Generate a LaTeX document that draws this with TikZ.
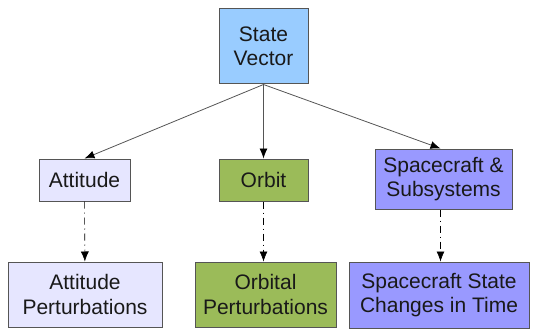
\documentclass[tikz,border=0pt]{standalone}
\usepackage{fontspec}
\setmainfont{Liberation Sans}
\usetikzlibrary{arrows.meta,positioning}

\definecolor{svblue}{HTML}{99CCFF}
\definecolor{attlav}{HTML}{E6E6FF}
\definecolor{orbgreen}{HTML}{9BBB59}
\definecolor{scviolet}{HTML}{9999FF}
\definecolor{edgegray}{HTML}{555555}

\begin{document}
\begin{tikzpicture}[
        x=1pt, y=-1pt,
        every node/.style={draw=edgegray, line width=1pt, align=center, inner sep=0pt,
            font=\fontsize{21}{24.5}\selectfont, text=black!90},
        link/.style={draw=edgegray, line width=0.8pt, -{Latex[length=10pt,width=8pt,black]}},
        detail/.style={draw=black, line width=0.6pt, dash pattern=on 7pt off 4pt on 1pt off 4pt,
            -{Latex[length=10pt,width=8pt,black]}}
    ]
    \useasboundingbox (0,0) rectangle (533,329);

    % Nodes
    \node (state) at (263.5,46.5) [fill=svblue, minimum width=89pt, minimum height=75pt] {State\\Vector};

    \node (att) at (84.5,180) [fill=attlav, minimum width=91pt, minimum height=42pt] {Attitude};
    \node (orb) at (263.5,180) [fill=orbgreen, minimum width=89pt, minimum height=42pt] {Orbit};
    \node (sc) at (443.5,179) [fill=scviolet, minimum width=137pt, minimum height=60pt] {Spacecraft \&\\Subsystems};

    \node (attpert) at (85,294.5) [fill=attlav, minimum width=154pt, minimum height=65pt] {Attitude\\Perturbations};
    \node (orbpert) at (265.5,294.5) [fill=orbgreen, minimum width=141pt, minimum height=65pt] {Orbital\\Perturbations};
    \node (scchange) at (439,295) [fill=scviolet, minimum width=180pt, minimum height=66pt] {Spacecraft State\\Changes in Time};

    % Edges
    \draw[link] (state.south) -- (att.north);
    \draw[link] (state.south) -- (orb.north);
    \draw[link] (state.south) -- ([xshift=-3pt]sc.north);
    \draw[detail] (att) -- (attpert);
    \draw[detail] (orb) -- (orb |- orbpert.north);
    \draw[detail] ([xshift=-3pt]sc.south) -- ([xshift=-3pt]sc.south |- scchange.north);

\end{tikzpicture}
\end{document}
